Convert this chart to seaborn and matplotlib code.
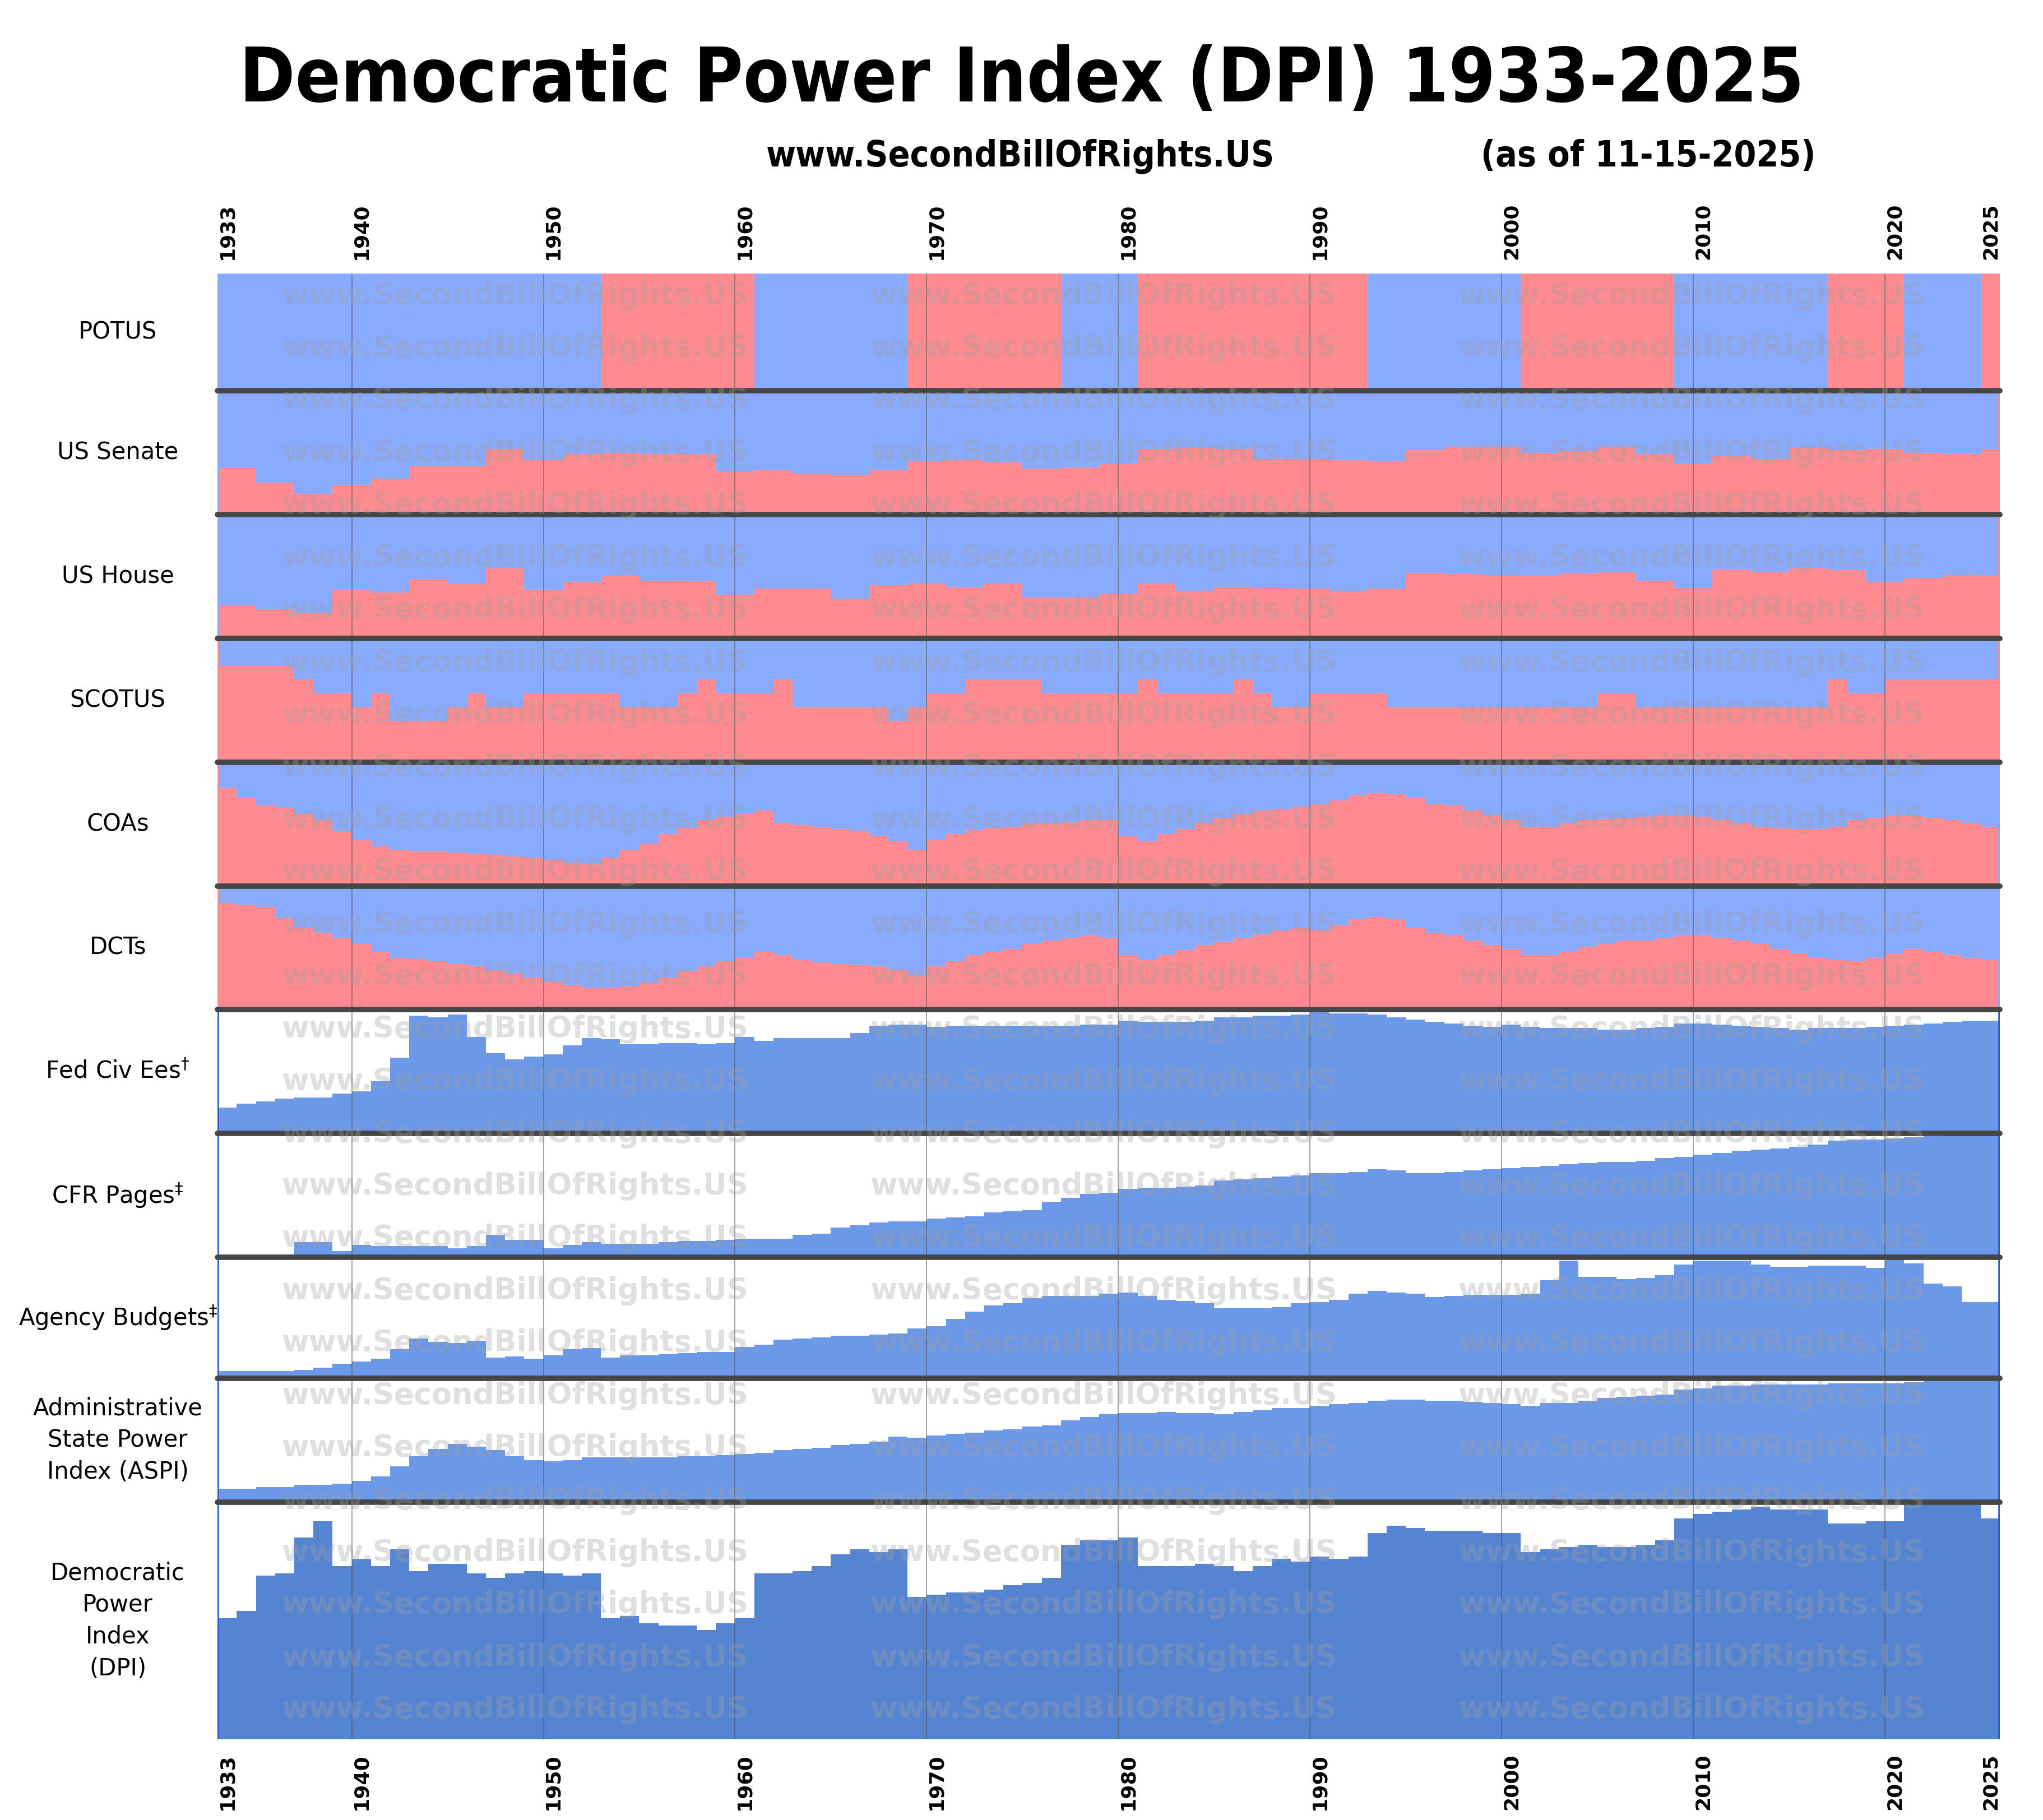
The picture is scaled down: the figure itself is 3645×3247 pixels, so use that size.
import numpy as np
import pandas as pd
import matplotlib
matplotlib.use("Agg")
import matplotlib.pyplot as plt
import seaborn as sns

sns.set_theme(style="white")
plt.rcParams['font.family'] = ['DejaVu Sans']
plt.rcParams['text.color'] = 'black'

years = np.arange(1933, 2026)

# POTUS party: start year of each term block, party
potus_start = [1933, 1953, 1961, 1969, 1977, 1981, 1993, 2001, 2009, 2017, 2021, 2025]
potus_party = ['D', 'R', 'D', 'R', 'D', 'R', 'D', 'R', 'D', 'R', 'D', 'R']

# Congress start years and Republican seats
congress_start = [1933, 1935, 1937, 1939, 1941, 1943, 1945, 1947, 1949, 1951, 1953, 1955, 1957, 1959,
                  1961, 1963, 1965, 1967, 1969, 1971, 1973, 1975, 1977, 1979, 1981, 1983, 1985, 1987,
                  1989, 1991, 1993, 1995, 1997, 1999, 2001, 2003, 2005, 2007, 2009, 2011, 2013, 2015,
                  2017, 2019, 2021, 2023, 2025]
senate_r = [36, 25, 16, 23, 28, 38, 38, 51, 42, 47, 48, 47, 47, 34,
            36, 33, 32, 36, 43, 44, 42, 37, 38, 41, 53, 54, 53, 45,
            45, 44, 43, 52, 55, 55, 50, 51, 55, 49, 41, 47, 45, 54,
            52, 53, 50, 49, 53]
senate_total = [96] * 14 + [100] * 33
house_r = [117, 103, 88, 169, 162, 209, 190, 246, 171, 199, 221, 203, 201, 153,
           175, 176, 140, 187, 192, 180, 192, 144, 143, 158, 192, 166, 182, 177,
           175, 167, 176, 230, 227, 223, 221, 229, 232, 202, 178, 242, 234, 247,
           241, 199, 213, 222, 220]

# SCOTUS justices appointed by Republican presidents (of 9), per year
scotus_r = [7, 7, 7, 7, 6, 5, 5, 4, 5, 3, 3, 3, 4, 5, 4, 4, 5, 5, 5, 5, 5, 4, 4, 4, 5, 6, 5, 5, 5, 6,
            4, 4, 4, 4, 4, 3, 4, 5, 5, 6, 6, 6, 6, 5, 5, 5, 5, 5, 6, 5, 5, 5, 5, 6, 5, 4, 4, 5, 5, 5,
            5, 4, 4, 4, 4, 4, 4, 4, 4, 4, 4, 4, 5, 5, 4, 4, 4, 4, 4, 4, 4, 4, 4, 4, 6, 5, 5, 6, 6, 6,
            6, 6, 6]

# Republican-appointed share of judges (%), per year
coa_r = [79, 71, 65, 63, 58, 53, 44, 37, 32, 29, 28, 28, 27, 26, 25, 24, 23, 21, 19, 18,
         23, 29, 34, 42, 47, 53, 56, 58, 61, 51, 49, 48, 46, 44, 40, 36, 29, 37, 42, 45,
         47, 48, 51, 51, 52, 53, 53, 40, 36, 42, 46, 51, 55, 58, 61, 62, 64, 66, 69, 73,
         75, 74, 71, 66, 65, 61, 57, 53, 48, 48, 51, 53, 54, 55, 56, 57, 57, 56, 53, 51,
         48, 47, 46, 46, 48, 53, 55, 57, 57, 55, 53, 51, 48]
dct_r = [86, 85, 83, 74, 66, 62, 58, 53, 47, 42, 41, 39, 37, 35, 32, 29, 26, 23, 20, 18,
         18, 19, 22, 26, 31, 35, 39, 42, 47, 44, 40, 38, 37, 36, 35, 32, 28, 35, 39, 44,
         47, 49, 53, 56, 58, 60, 58, 44, 40, 44, 48, 52, 55, 58, 61, 64, 66, 64, 68, 73,
         75, 73, 66, 62, 60, 56, 52, 49, 44, 44, 47, 51, 54, 56, 56, 58, 60, 60, 58, 56,
         53, 49, 46, 42, 40, 39, 42, 45, 49, 47, 44, 42, 40]

# Administrative state measures (% of max), per year
fed_civ = [21, 24, 26, 28, 29, 29, 32, 34, 42, 61, 95, 94, 96, 78, 65, 60, 62, 64, 71, 77,
           76, 72, 72, 73, 73, 72, 73, 78, 75, 77, 77, 77, 77, 81, 87, 88, 88, 86, 87, 87,
           87, 87, 87, 87, 87, 88, 88, 91, 90, 90, 90, 91, 94, 94, 95, 95, 96, 98, 97, 97,
           96, 94, 92, 90, 89, 87, 86, 88, 86, 85, 85, 85, 84, 84, 85, 86, 89, 89, 88, 87,
           86, 85, 84, 85, 85, 85, 86, 87, 88, 89, 90, 91, 91]
cfr_pages = [2, 2, 2, 2, 12, 12, 5, 10, 9, 9, 9, 9, 7, 9, 18, 14, 14, 7, 10, 12,
             11, 11, 11, 12, 13, 13, 14, 15, 15, 15, 18, 19, 24, 26, 28, 29, 29, 31, 32, 33,
             36, 37, 38, 45, 48, 51, 52, 55, 56, 56, 57, 58, 62, 63, 64, 65, 66, 68, 68, 69,
             71, 70, 68, 68, 69, 70, 71, 72, 73, 74, 75, 76, 77, 77, 78, 80, 81, 83, 84, 86,
             87, 88, 89, 91, 94, 95, 95, 96, 97, 98, 99, 100, 100]
budgets = [6, 6, 6, 6, 7, 9, 12, 14, 16, 24, 33, 30, 29, 31, 17, 18, 16, 19, 24, 25,
           17, 19, 19, 20, 21, 22, 22, 26, 28, 32, 33, 34, 35, 35, 36, 37, 41, 43, 49, 55,
           60, 62, 66, 68, 68, 68, 70, 71, 68, 65, 64, 62, 58, 58, 58, 59, 62, 63, 65, 70,
           72, 71, 70, 67, 68, 69, 69, 69, 70, 81, 97, 84, 84, 82, 83, 85, 94, 97, 97, 97,
           94, 92, 92, 93, 93, 93, 91, 100, 95, 78, 76, 63, 63]
aspi = [11, 11, 12, 12, 14, 14, 15, 17, 21, 29, 37, 43, 47, 45, 42, 37, 34, 33, 34, 36,
        36, 36, 36, 36, 37, 37, 38, 39, 40, 42, 43, 44, 46, 47, 49, 53, 52, 54, 55, 56,
        58, 59, 61, 62, 66, 69, 71, 72, 72, 73, 72, 72, 71, 73, 74, 76, 76, 78, 79, 80,
        82, 83, 83, 82, 82, 81, 80, 79, 78, 80, 80, 82, 84, 85, 86, 87, 91, 92, 94, 94,
        95, 95, 95, 95, 96, 96, 96, 96, 97, 98, 98, 98, 98]
dpi = [51, 54, 69, 70, 85, 92, 73, 76, 73, 80, 71, 74, 74, 70, 68, 70, 71, 70, 69, 70,
       51, 52, 49, 48, 48, 46, 49, 51, 70, 70, 71, 73, 78, 80, 79, 80, 60, 61, 62, 62,
       63, 65, 66, 68, 82, 84, 84, 85, 73, 73, 73, 74, 73, 71, 73, 76, 75, 77, 76, 77,
       87, 90, 89, 88, 88, 88, 87, 87, 79, 80, 81, 82, 81, 81, 82, 84, 93, 95, 96, 97,
       98, 97, 97, 97, 91, 91, 92, 92, 99, 99, 99, 99, 93]

row_labels = ['POTUS', 'US Senate', 'US House', 'SCOTUS', 'COAs', 'DCTs',
              'Fed Civ Ees$^{\\dagger}$', 'CFR Pages$^{\\ddagger}$', 'Agency Budgets$^{\\ddagger}$',
              'Administrative\nState Power\nIndex (ASPI)', 'Democratic\nPower\nIndex\n(DPI)']


def per_year(starts, vals):
    s = pd.Series(vals, index=starts).reindex(years).ffill()
    return s.values


potus_r = per_year(potus_start, [1.0 if p == 'R' else 0.0 for p in potus_party])
sen = per_year(congress_start, np.array(senate_r) / np.array(senate_total))
hou = per_year(congress_start, np.array(house_r) / 435)
red_series = [potus_r, sen, hou, np.array(scotus_r) / 9, np.array(coa_r) / 100, np.array(dct_r) / 100]
blue_series = [np.array(v) / 100 for v in (fed_civ, cfr_pages, budgets, aspi, dpi)]

RED = '#ff8a8f'
BLUE = '#88aaff'
MID = '#6c98e8'
DARK = '#5584d3'

W, H = 1568, 1397
fig = plt.figure(figsize=(36.45, 32.47), dpi=100)
edges = [210, 300, 395, 490, 585, 680, 775, 870, 965, 1058, 1153, 1335]
x0, x1 = 167, 1535

xs = np.append(years, 2026)
axes = []
for i in range(11):
    top, bot = edges[i], edges[i + 1]
    ax = fig.add_axes([x0 / W, 1 - bot / H, (x1 - x0) / W, (bot - top) / H])
    ax.set_xlim(1933, 2026)
    ax.set_ylim(0, 1)
    ax.set_xticks([])
    ax.set_yticks([])
    for sp in ax.spines.values():
        sp.set_visible(False)
    if i < 6:
        v = np.append(red_series[i], red_series[i][-1])
        ax.fill_between(xs, 0, 1, color=BLUE, step='post', lw=0)
        ax.fill_between(xs, 0, v, color=RED, step='post', lw=0)
        ax.axvline(1933, color=RED if v[0] > 0.5 else BLUE, lw=4)
        ax.axvline(2026, color=RED if v[-1] > 0.5 else BLUE, lw=4)
    else:
        v = np.append(blue_series[i - 6], blue_series[i - 6][-1])
        c = DARK if i == 10 else MID
        ax.fill_between(xs, 0, v, color=c, step='post', lw=0)
        ax.axvline(1933, color='#2a5cc8', lw=4)
        ax.axvline(2026, color='#2a5cc8', lw=4)
    for d in range(1940, 2030, 10):
        ax.axvline(d, color='#555555', lw=1.3, alpha=0.6, zorder=3)
    if i > 0:
        ax.axhline(1, color='#464646', lw=7, zorder=4, clip_on=False)
    ax.text(-0.056, 0.5, row_labels[i], transform=ax.transAxes, ha='center', va='center',
            fontsize=30, linespacing=1.45)
    axes.append(ax)

tick_years = [1933, 1940, 1950, 1960, 1970, 1980, 1990, 2000, 2010, 2020, 2025]
for yr in tick_years:
    axes[0].text(yr + 0.5, 1.12, str(yr), rotation=90, ha='center', va='bottom',
                 fontsize=26, fontweight='bold', transform=axes[0].get_xaxis_transform())
    axes[-1].text(yr + 0.5, -0.06, str(yr), rotation=90, ha='center', va='top',
                  fontsize=26, fontweight='bold', transform=axes[-1].get_xaxis_transform())

# watermark
for k in range(28):
    yy = 227 + k * 40.2
    for xc in (395, 847, 1298):
        fig.text(xc / W, 1 - yy / H, 'www.SecondBillOfRights.US', ha='center', va='center',
                 fontsize=38, fontweight='bold', color='#a0a0a0', alpha=0.33, zorder=10)

fig.text(784 / W, 1 - 62 / H, 'Democratic Power Index (DPI) 1933-2025', ha='center', va='center',
         fontsize=96, fontweight='bold', fontstretch='condensed')
fig.text(783 / W, 1 - 120 / H, 'www.SecondBillOfRights.US', ha='center', va='center',
         fontsize=46, fontweight='bold', fontstretch='condensed')
fig.text(1265 / W, 1 - 120 / H, '(as of 11-15-2025)', ha='center', va='center',
         fontsize=46, fontweight='bold', fontstretch='condensed')

fig.savefig('out.png', dpi=100, facecolor='white')
